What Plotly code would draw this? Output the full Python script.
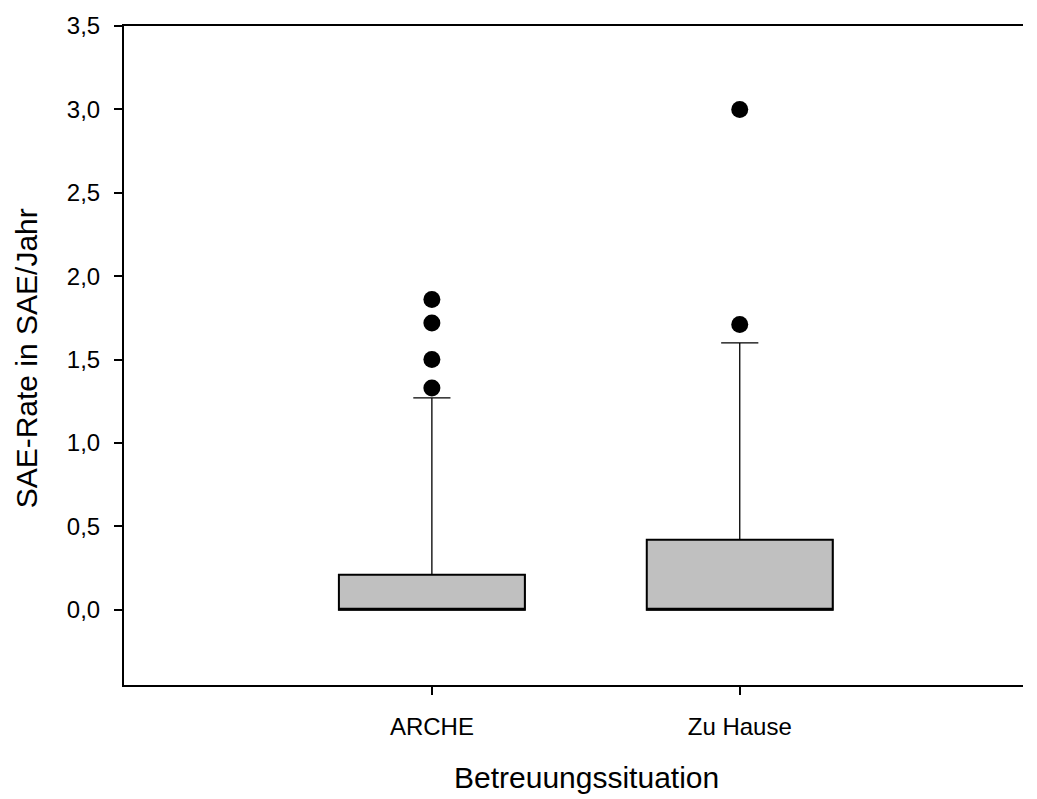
import plotly.graph_objects as go

# Box statistics (SAE per year)
groups = ["ARCHE", "Zu Hause"]
q1 = [0.0, 0.0]
median = [0.0, 0.0]
q3 = [0.21, 0.42]
lower_fence = [0.0, 0.0]
upper_fence = [1.27, 1.60]

# Outliers beyond the upper whisker
outlier_groups = ["ARCHE", "ARCHE", "ARCHE", "ARCHE", "Zu Hause", "Zu Hause"]
outlier_values = [1.86, 1.72, 1.50, 1.33, 1.71, 3.0]

y_ticks = [0.0, 0.5, 1.0, 1.5, 2.0, 2.5, 3.0, 3.5]
y_tick_text = ["0,0", "0,5", "1,0", "1,5", "2,0", "2,5", "3,0", "3,5"]

FONT = "Liberation Sans, Arial, sans-serif"
BOX_W = 0.604

fig = go.Figure()

# Whiskers with caps (thin line)
fig.add_trace(go.Box(
    x=groups, q1=q1, median=median, q3=q3,
    lowerfence=lower_fence, upperfence=upper_fence,
    width=BOX_W, whiskerwidth=0.2,
    fillcolor="#C0C0C0", line=dict(color="black", width=1.3),
    boxpoints=False, hoverinfo="skip", showlegend=False,
))

# Box body with heavier outline
fig.add_trace(go.Box(
    x=groups, q1=q1, median=median, q3=q3,
    lowerfence=q1, upperfence=q3,
    width=BOX_W, whiskerwidth=0,
    fillcolor="#C0C0C0", line=dict(color="black", width=2),
    boxpoints=False, hoverinfo="skip", showlegend=False,
))

fig.add_trace(go.Scatter(
    x=outlier_groups, y=outlier_values, mode="markers",
    marker=dict(color="black", size=17, line=dict(width=0)),
    hoverinfo="skip", showlegend=False,
))

fig.update_layout(
    width=1037, height=799,
    margin=dict(l=124, r=14, t=19, b=114),
    paper_bgcolor="white", plot_bgcolor="white",
    boxmode="overlay",
    font=dict(family=FONT, color="black"),
    xaxis=dict(
        type="category", range=[-1, 1.92],
        showgrid=False, zeroline=False,
        showline=True, linecolor="black", linewidth=2, mirror=True,
        ticks="outside", ticklen=8, tickwidth=1.5, tickcolor="black",
        tickfont=dict(size=24, family=FONT),
        ticklabelstandoff=11,
    ),
    yaxis=dict(
        range=[-0.451, 3.5001],
        tickvals=y_ticks, ticktext=y_tick_text,
        showgrid=False, zeroline=False,
        showline=True, linecolor="black", linewidth=2,
        ticks="outside", ticklen=8, tickwidth=1.5, tickcolor="black",
        tickfont=dict(size=24, family=FONT),
        ticklabelstandoff=9,
    ),
    annotations=[
        dict(text="Betreuungssituation", xref="paper", yref="paper",
             x=0.514, y=-0.141, xanchor="center", yanchor="middle",
             showarrow=False, font=dict(size=30, family=FONT)),
        dict(text="SAE-Rate in SAE/Jahr", xref="paper", yref="paper",
             x=-0.108, y=0.4955, xanchor="center", yanchor="middle",
             textangle=-90, showarrow=False, font=dict(size=30, family=FONT)),
    ],
)

fig.write_html("out.html")
